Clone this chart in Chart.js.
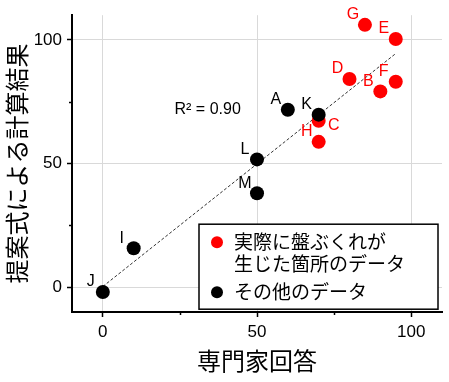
<!DOCTYPE html>
<html><head><meta charset="utf-8">
<script src="https://cdn.jsdelivr.net/npm/chart.js@4/dist/chart.umd.min.js"></script>
<style>html,body{margin:0;padding:0;background:#fff;} canvas{display:block;}</style>
</head><body>
<canvas id="c" width="449" height="382"></canvas>
<script>
// ---- data ----
const redLabels = ['B','C','D','E','F','G','H'];
const redX = [90, 70, 80, 95, 95, 85, 70];
const redY = [79.2, 67.3, 84.2, 100.4, 83.1, 106.1, 58.8];
const blackLabels = ['A','I','J','K','L','M'];
const blackX = [60, 10, 0, 70, 50, 50];
const blackY = [71.8, 15.8, -1.9, 69.8, 51.7, 38.0];
const fitX = [0, 95];
const fitY = [0.3, 94.5];
const tickValues = [0, 50, 100];
const minorTickValues = [25, 75];
const legendRed = ['実際に盤ぶくれが', '生じた箇所のデータ'];
const legendBlack = ['その他のデータ'];
const r2Text = 'R² = 0.90';
const r2At = [34, 72];
const xTitle = '専門家回答';
const yTitle = '提案式による計算結果';

const LATIN = "'Liberation Sans', Arial, sans-serif";
const JP = "'Noto Sans CJK JP', 'Noto Sans CJK SC', sans-serif";
const RED = '#ff0000';

const toPts = (xs, ys) => xs.map((x, i) => ({x: x, y: ys[i]}));

const labelPlugin = {
  id: 'pointLabels',
  afterDatasetsDraw(chart) {
    const ctx = chart.ctx;
    ctx.save();
    ctx.font = '16px ' + LATIN;
    ctx.textAlign = 'center';
    ctx.textBaseline = 'middle';
    chart.data.datasets.forEach((ds, di) => {
      if (!ds.pointNames) return;
      const meta = chart.getDatasetMeta(di);
      meta.data.forEach((el, j) => {
        const name = ds.pointNames[j];
        let dx = -12, dy = -10;
        if (name === 'C') { dx = 15; dy = 5; }
        ctx.fillStyle = ds.backgroundColor;
        ctx.fillText(name, el.x + dx, el.y + dy);
      });
    });
    // R^2 text
    const xs = chart.scales.x, ys = chart.scales.y;
    ctx.fillStyle = '#000';
    ctx.font = '16px ' + LATIN;
    ctx.fillText(r2Text, xs.getPixelForValue(r2At[0]), ys.getPixelForValue(r2At[1]));
    ctx.restore();
  },
  afterDraw(chart) {
    const ctx = chart.ctx;
    const xs = chart.scales.x, ys = chart.scales.y;
    const ca = chart.chartArea;
    ctx.save();
    // minor ticks
    ctx.strokeStyle = '#000';
    ctx.lineWidth = 1.5;
    minorTickValues.forEach(v => {
      const px = Math.round(xs.getPixelForValue(v)) + 0.5;
      ctx.beginPath(); ctx.moveTo(px, ca.bottom); ctx.lineTo(px, ca.bottom + 3); ctx.stroke();
      const py = Math.round(ys.getPixelForValue(v)) + 0.5;
      ctx.beginPath(); ctx.moveTo(ca.left, py); ctx.lineTo(ca.left - 3, py); ctx.stroke();
    });
    // legend
    const bx = ca.left + 127, by = ca.top + 209, bw = 239, bh = 85;
    ctx.fillStyle = '#fff';
    ctx.fillRect(bx, by, bw, bh);
    ctx.lineWidth = 1.5;
    ctx.strokeStyle = '#000';
    ctx.strokeRect(bx, by, bw, bh);
    ctx.font = '19px ' + JP;
    ctx.textAlign = 'left';
    ctx.textBaseline = 'middle';
    ctx.fillStyle = RED;
    ctx.beginPath(); ctx.arc(bx + 18, by + 18, 6, 0, Math.PI * 2); ctx.fill();
    ctx.fillStyle = '#000';
    ctx.beginPath(); ctx.arc(bx + 18, by + 68, 6, 0, Math.PI * 2); ctx.fill();
    ctx.fillText(legendRed[0], bx + 35, by + 18);
    ctx.fillText(legendRed[1], bx + 35, by + 40);
    ctx.fillText(legendBlack[0], bx + 35, by + 68);
    ctx.restore();
  }
};

const fixTicks = axis => { axis.ticks = tickValues.map(v => ({value: v})); };

new Chart(document.getElementById('c'), {
  type: 'scatter',
  data: {
    datasets: [
      {
        type: 'line',
        data: toPts(fitX, fitY),
        borderColor: '#333',
        borderWidth: 1,
        borderDash: [3, 2],
        pointRadius: 0,
        fill: false,
        order: 3
      },
      {
        data: toPts(redX, redY),
        pointNames: redLabels,
        backgroundColor: RED,
        borderWidth: 0,
        pointRadius: 7,
        order: 2
      },
      {
        data: toPts(blackX, blackY),
        pointNames: blackLabels,
        backgroundColor: '#000',
        borderWidth: 0,
        pointRadius: 7,
        order: 1
      }
    ]
  },
  options: {
    responsive: false,
    devicePixelRatio: 1,
    animation: false,
    layout: {padding: {top: 11, right: 2, left: 0, bottom: 0}},
    plugins: {legend: {display: false}, tooltip: {enabled: false}},
    scales: {
      x: {
        type: 'linear', min: -10, max: 110,
        afterBuildTicks: fixTicks,
        afterFit: s => { s.height = 70; },
        ticks: {font: {family: LATIN, size: 17}, color: '#000', padding: 5, maxRotation: 0},
        grid: {color: '#d9d9d9', lineWidth: 1, tickColor: '#000', tickLength: 5, tickWidth: 1.5},
        border: {color: '#000', width: 2},
        title: {display: true, text: xTitle, color: '#000',
          font: {family: JP, size: 24, lineHeight: 1}, padding: {top: 0, bottom: 9}}
      },
      y: {
        type: 'linear', min: -10, max: 110,
        afterBuildTicks: fixTicks,
        afterFit: s => { s.width = 72; },
        ticks: {font: {family: LATIN, size: 17}, color: '#000', padding: 5},
        grid: {color: '#d9d9d9', lineWidth: 1, tickColor: '#000', tickLength: 5, tickWidth: 1.5},
        border: {color: '#000', width: 2},
        title: {display: true, text: yTitle, color: '#000',
          font: {family: JP, size: 24, lineHeight: 1}, padding: {top: 5, bottom: 0}}
      }
    }
  },
  plugins: [labelPlugin]
});
</script>
</body></html>
